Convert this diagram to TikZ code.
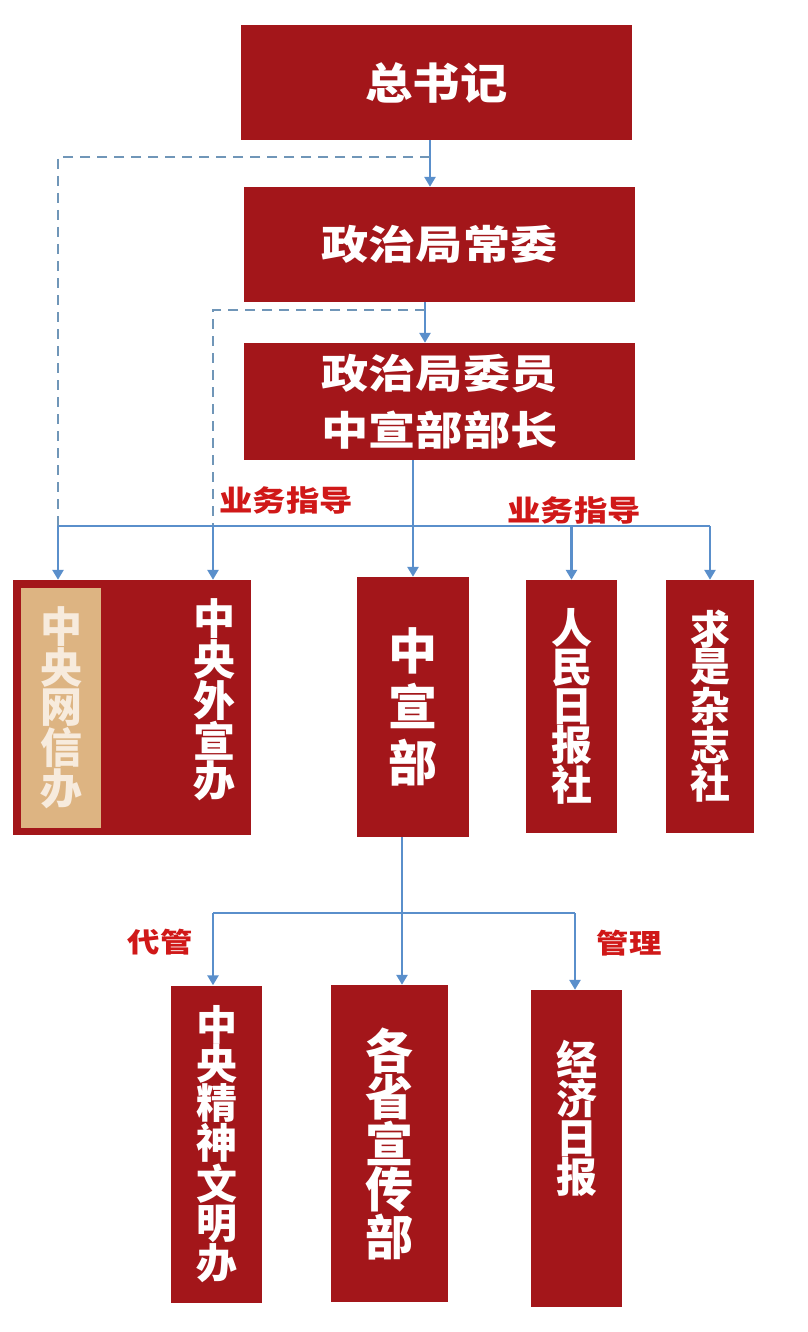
\documentclass[tikz,border=0pt]{standalone}
\usepackage{fontspec}
\usepackage{graphicx}
\setmainfont{Noto Sans CJK SC}
\usetikzlibrary{arrows.meta}
\definecolor{boxred}{HTML}{A3161A}
\definecolor{tan}{HTML}{DDB482}
\definecolor{lineblue}{HTML}{5A8FCB}
\definecolor{dashblue}{HTML}{7096B8}
\definecolor{labelred}{HTML}{D01818}
\definecolor{cream}{HTML}{F7EBDD}
\newcommand{\fs}[2]{\bfseries\fontsize{#1}{#2}\selectfont}
\tikzset{
  box/.style={fill=boxred, inner sep=0pt, text=white, align=center},
  tanbox/.style={fill=tan, inner sep=0pt, align=center, text=cream},
  vtxt/.style={inner sep=0pt, align=center},
  conn/.style={draw=lineblue, line width=2.8pt},
  arr/.style={draw=lineblue, line width=2.8pt, -{Triangle[length=10pt,width=11pt]}},
  dashconn/.style={draw=dashblue, line width=2.8pt, dash pattern=on 10pt off 7pt},
  lab/.style={inner sep=0pt, text=labelred}
}
\begin{document}
\begin{tikzpicture}[x=1pt,y=-1pt]
\useasboundingbox[fill=white] (0,0) rectangle (807,1332);
% top boxes
\node[box, minimum width=391pt, minimum height=115pt, font=\fs{43}{50}] (zsj) at (436.5,82.5)
  {\scalebox{1.1}[1]{总书记}};
\node[box, minimum width=391pt, minimum height=115pt, font=\fs{40}{50}] (cw) at (439.5,244.5)
  {\scalebox{1.18}[1]{政治局常委}};
\node[box, minimum width=391pt, minimum height=117pt, font=\fs{40}{57}] (wy) at (439.5,401.5)
  {\scalebox{1.18}[1]{政治局委员}\\\scalebox{1.18}[1]{中宣部部长}};
% middle row
\node[box, minimum width=238pt, minimum height=255pt] (wxb) at (132,707.5) {};
\node[tanbox, minimum width=80pt, minimum height=240pt, font=\fs{42}{39}] (wxx) at (61,708)
  {中\\央\\网\\信\\办};
\node[vtxt, text=white, font=\fs{42}{39}] (wxbt) at (214,700)
  {中\\央\\外\\宣\\办};
\node[box, minimum width=112pt, minimum height=260pt, font=\fs{49}{56}] (zxb) at (413,707)
  {中\\宣\\部};
\node[box, minimum width=91pt, minimum height=253pt, font=\fs{41}{39}] (rmrb) at (571.5,706.5)
  {人\\民\\日\\报\\社};
\node[box, minimum width=88pt, minimum height=253pt, font=\fs{40}{37}] (qs) at (710,706.5)
  {求\\是\\杂\\志\\社};
% bottom row
\node[box, minimum width=91pt, minimum height=317pt, font=\fs{41}{39}] (jswm) at (216.5,1144)
  {中\\央\\精\\神\\文\\明\\办};
\node[box, minimum width=117pt, minimum height=317pt, font=\fs{48}{44}] (gs) at (389.5,1143.5)
  {各\\省\\宣\\传\\部};
\node[box, minimum width=91pt, minimum height=317pt] (jjrb) at (576.5,1148.5) {};
\node[vtxt, text=white, font=\fs{41}{39}] (jjrbt) at (577,1118)
  {经\\济\\日\\报};
% labels
\node[lab, font=\fs{29}{30}] (l1) at (286,500) {\scalebox{1.15}[1]{业务指导}};
\node[lab, font=\fs{29}{30}] (l2) at (574,510) {\scalebox{1.15}[1]{业务指导}};
\node[lab, font=\fs{27}{30}] (l3) at (160,942) {\scalebox{1.2}[1]{代管}};
\node[lab, font=\fs{27}{30}] (l4) at (629,943) {\scalebox{1.2}[1]{管理}};
% junction coordinates
\coordinate (a1) at (430,157);
\coordinate (a2) at (425,310);
\coordinate (d1) at (58,526);
\coordinate (d2) at (213,526);
\coordinate (h2) at (710,526);
\coordinate (b0) at (402,913);
\coordinate (b1) at (213,913);
\coordinate (b2) at (575,913);
% top connectors
\draw[arr] (zsj.south -| a1) -- (cw.north -| a1);
\draw[arr] (cw.south -| a2) -- (wy.north -| a2);
\draw[dashconn] (a1) -| (d1);
\draw[dashconn] (a2) -| (d2);
\draw[arr] (wy.south -| zxb.north) -- (zxb.north);
% guidance bar
\draw[conn] (d1) -- (h2);
\draw[arr] (d1) -- (wxb.north -| d1);
\draw[arr] (d2) -- (wxb.north -| d2);
\draw[arr] (d1 -| rmrb.north) -- (rmrb.north);
\draw[arr] (h2) -- (qs.north);
% lower bar
\draw[conn] (zxb.south -| b0) -- (b0);
\draw[conn] (b1) -- (b2);
\draw[arr] (b0) -- (gs.north -| b0);
\draw[arr] (b1) -- (jswm.north -| b1);
\draw[arr] (b2) -- (jjrb.north -| b2);
\end{tikzpicture}
\end{document}
